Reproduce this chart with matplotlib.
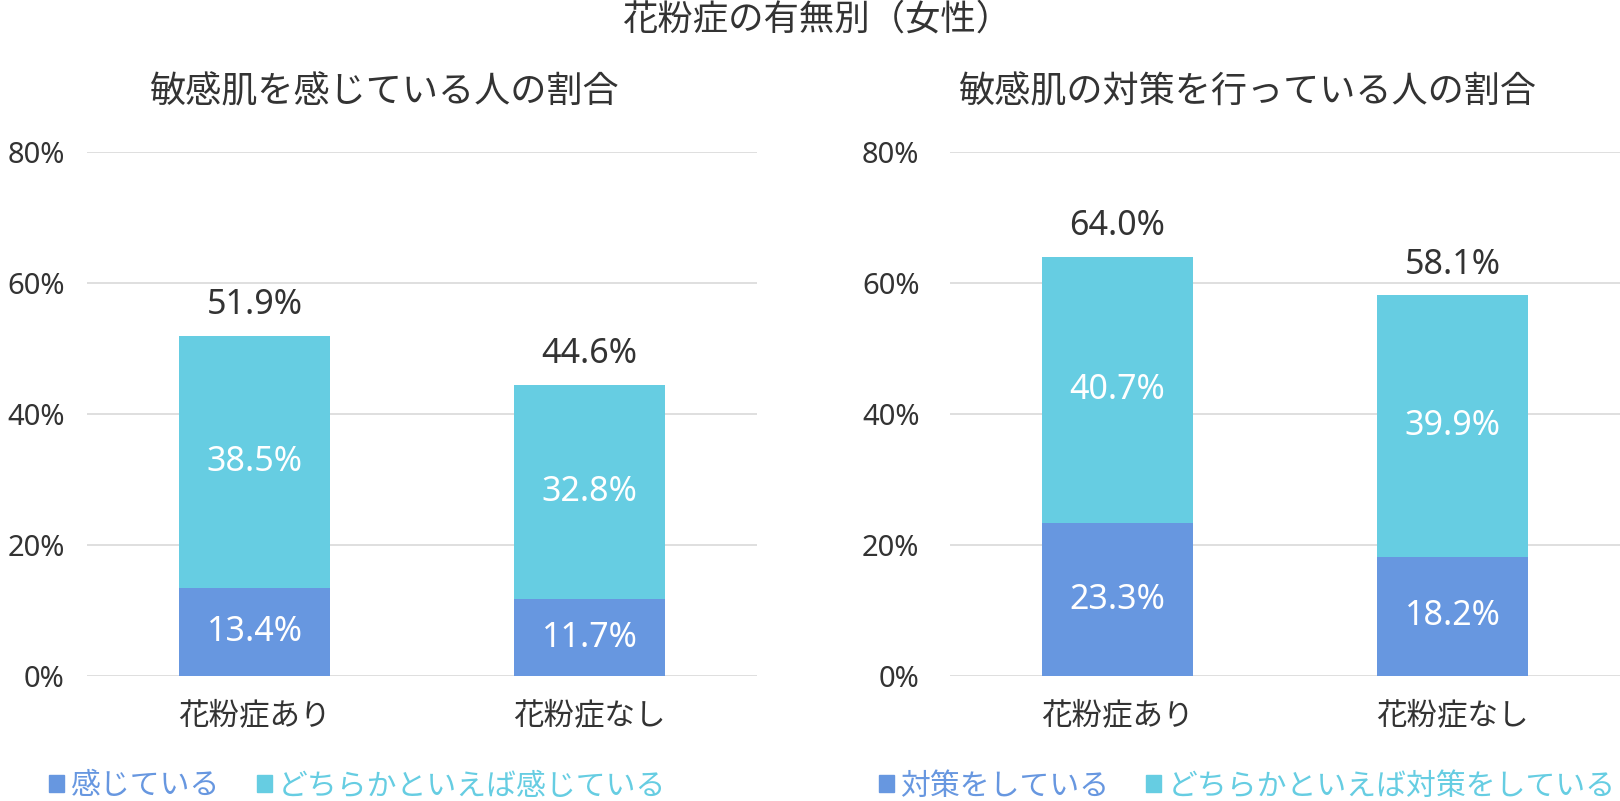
import matplotlib
matplotlib.use('Agg')
import matplotlib.pyplot as plt
from matplotlib.patches import Patch

plt.rcParams['font.family'] = ['Noto Sans', 'Noto Sans CJK JP', 'DejaVu Sans']

# данные
categories = ['花粉症あり', '花粉症なし']

left_title = '敏感肌を感じている人の割合'
left_labels = ['感じている', 'どちらかといえば感じている']
left_low = [13.4, 11.7]
left_high = [38.5, 32.8]
left_total = [51.9, 44.6]

right_title = '敏感肌の対策を行っている人の割合'
right_labels = ['対策をしている', 'どちらかといえば対策をしている']
right_low = [23.3, 18.2]
right_high = [40.7, 39.9]
right_total = [64.0, 58.1]

yticks = [0, 20, 40, 60, 80]

c_low = '#6797E0'
c_high = '#66CDE2'
c_text = '#333333'
c_grid = '#D9D9D9'

fig = plt.figure(figsize=(16.2, 8.01), dpi=100)
fig.text(817 / 1620, 1 - 21 / 801, '花粉症の有無別（女性）', ha='center', va='center',
         fontsize=25.5, color=c_text)


def draw_panel(rect, title, title_x, low, high, total, labels, ypad, legend_x):
    ax = fig.add_axes(rect)
    x = range(len(categories))
    b1 = ax.bar(x, low, width=0.45, color=c_low)
    b2 = ax.bar(x, high, width=0.45, bottom=low, color=c_high)
    ax.bar_label(b1, labels=[f'{v:.1f}%' for v in low], label_type='center',
                 color='white', fontsize=24.5)
    ax.bar_label(b2, labels=[f'{v:.1f}%' for v in high], label_type='center',
                 color='white', fontsize=24.5)
    for i, t in enumerate(total):
        ax.annotate(f'{t:.1f}%', (i, low[i] + high[i]), xytext=(0, 22),
                    textcoords='offset points', ha='center', va='center',
                    fontsize=24.5, color=c_text)
    ax.set_xlim(-0.5, len(categories) - 0.5)
    ax.set_ylim(0, 80)
    ax.set_yticks(yticks)
    ax.set_yticklabels([f'{v}%' for v in yticks])
    ax.set_xticks(list(x))
    ax.set_xticklabels(categories)
    ax.tick_params(axis='y', length=0, pad=ypad, labelsize=21, labelcolor=c_text)
    ax.tick_params(axis='x', length=0, pad=18, labelsize=22, labelcolor=c_text)
    ax.grid(axis='y', color=c_grid, linewidth=1.2)
    ax.set_axisbelow(True)
    for s in ax.spines.values():
        s.set_visible(False)
    fig.text(title_x / 1620, 1 - 93 / 801, title, ha='center', va='center',
             fontsize=26, color=c_text)
    handles = [Patch(color=c_low), Patch(color=c_high)]
    leg = fig.legend(handles, labels, loc='center left',
                     bbox_to_anchor=(legend_x / 1620, 1 - 787 / 801), ncol=2,
                     frameon=False, fontsize=21.5, handlelength=0.5, handleheight=0.5,
                     handletextpad=0.2, columnspacing=1.25, borderpad=0, borderaxespad=0)
    for txt, c in zip(leg.get_texts(), [c_low, c_high]):
        txt.set_color(c)
    return ax


draw_panel([87 / 1620, 1 - 676 / 801, 670 / 1620, 524 / 801], left_title, 384,
           left_low, left_high, left_total, left_labels, 16, 49)
draw_panel([950 / 1620, 1 - 676 / 801, 670 / 1620, 524 / 801], right_title, 1247,
           right_low, right_high, right_total, right_labels, 22, 879)

fig.savefig('out.png', dpi=100)
